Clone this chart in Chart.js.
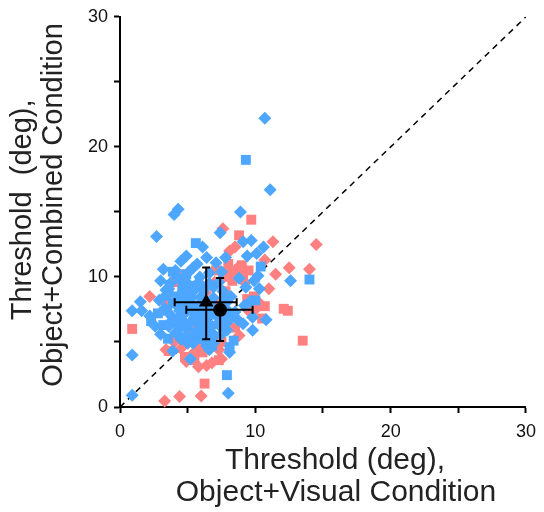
<!DOCTYPE html>
<html>
<head>
<meta charset="utf-8">
<script src="https://cdn.jsdelivr.net/npm/chart.js@4.4.1/dist/chart.umd.min.js"></script>
<style>
  html, body { margin: 0; padding: 0; background: #fff; }
  #wrap { width: 544px; height: 512px; }
</style>
</head>
<body>
<div id="wrap"><canvas id="scatter" width="544" height="512"></canvas></div>
<script>
// ---- data (deg) ----
const blueDiamonds = [
  [10.7,22.2],[11.1,16.7],[4.3,15.2],[4.0,14.8],[8.9,15.0],[2.7,13.1],[7.4,13.4],[6.1,12.3],
  [9.1,12.7],[9.7,12.8],[10.6,12.3],[4.9,11.6],[4.5,11.2],[7.1,11.1],[7.8,11.5],[9.4,11.6],
  [10.1,11.8],[5.4,10.7],[3.2,10.6],[4.1,10.5],[9.9,9.7],[8.8,9.9],[9.3,9.2],[10.3,9.1],
  [12.6,9.7],[10.2,10.1],[7.5,10.4],[9.6,8.1],[3.4,9.0],[3.6,9.1],[1.5,8.1],[2.9,8.2],
  [0.9,7.4],[1.6,7.4],[0.9,4.0],[0.9,0.9],[10.8,6.7],[9.8,6.9],[9.8,5.9],[9.1,6.4],
  [8.7,6.7],[8.1,4.2],[8.0,1.05],[5.2,3.7],[3.9,4.3],[6.4,4.7],[6.6,4.4],
  [5.0,9.5],[5.5,9.0],[6.0,8.5],[4.6,8.8],[5.8,7.5],[6.5,7.0],[4.8,7.2],[5.2,6.5],
  [6.8,6.2],[7.4,6.8],[7.8,7.6],[8.2,8.5],[6.9,9.2],[7.6,8.9],[4.4,6.0],[5.6,5.8],
  [6.2,5.6],[7.0,5.5],[7.9,5.9],[8.5,7.3],[4.2,7.8],[3.8,7.0],[5.9,10.0],[6.6,10.3],
  [4.9,8.2],[5.4,7.8],[6.3,6.6],[7.3,7.6],[3.6,6.2],[4.5,5.2],[5.0,4.9],[6.9,4.9],
  [9.2,7.8],[6.4,11.5],[5.7,11.0],[3.0,9.7],[2.2,7.0],[4.2,10.0],[5.1,10.4],[3.7,9.5],
  [4.8,9.0],[5.8,9.6],[6.6,9.5],[7.3,9.6],[3.4,8.6],[4.1,8.2],[5.3,8.4],[6.1,8.1],
  [6.9,8.4],[7.9,8.1],[3.3,7.6],[4.4,7.4],[5.1,7.7],[6.1,7.2],[6.8,7.6],[7.6,7.2],
  [3.9,6.7],[4.7,6.6],[5.5,6.9],[6.4,6.1],[7.2,6.4],[8.0,6.6],[4.1,5.7],[4.9,5.5],
  [5.9,5.9],[6.7,5.4],[7.5,5.6],[5.4,4.9],[6.1,5.2],[2.6,6.2],[3.0,5.6]
];
const blueSquares = [
  [9.3,19.0],[5.6,12.6],[10.4,10.8],[3.9,10.4],[14.0,9.8],[10.0,8.2],[7.9,2.45],[8.1,4.6],
  [8.4,5.1],[3.55,5.25],[2.8,7.2],[3.2,6.3],[5.9,5.25],[4.4,9.9],[4.9,10.2],[5.3,9.3],
  [4.6,9.2],[5.1,8.6],[4.3,8.5],[3.9,8.0],[4.7,7.6],[5.5,7.2],[6.0,7.9],[4.5,6.9],
  [5.0,6.2],[5.7,6.6],[6.2,9.1],[6.7,8.0],[7.0,7.1],[7.7,8.3],[6.4,5.9],[5.3,5.3],
  [7.6,6.1],[4.1,6.5],[3.6,8.8],[8.1,7.1],[3.5,7.4],[6.8,4.7],[2.3,6.6]
];
const redSquares = [
  [9.7,14.4],[8.8,13.2],[8.5,10.1],[9.1,10.1],[8.8,10.6],[9.0,10.9],[8.3,9.7],[9.5,10.5],
  [12.4,7.4],[10.7,7.75],[10.5,6.8],[13.5,5.1],[9.4,8.3],[9.9,8.5],[12.1,7.55],[0.9,6.0],
  [6.25,1.8],[4.8,3.85],[5.5,3.6],[4.2,5.5],[4.65,5.25],[5.15,5.4],[7.2,4.7],[7.5,5.0],
  [3.4,8.2],[4.0,9.6],[4.5,9.7],[4.6,10.2],[7.1,10.5],[6.5,7.5],[7.1,8.0],[7.8,8.9],
  [8.2,10.4],[7.6,10.0],[5.2,6.0],[6.0,6.3],[6.8,5.0],[7.9,6.6],[8.5,6.1],[5.7,4.6],
  [6.1,4.2],[8.0,11.0],[7.7,6.5],[7.3,3.6],[3.6,4.3]
];
const redDiamonds = [
  [7.6,13.7],[8.5,12.3],[11.3,12.7],[14.5,12.5],[14.0,10.6],[8.0,10.5],[8.7,10.7],[11.5,10.2],
  [12.5,10.7],[11.0,9.1],[10.05,7.55],[2.2,8.5],[3.4,8.3],[4.5,10.0],[3.3,0.46],[4.4,0.8],
  [6.0,0.84],[6.4,3.2],[5.8,3.1],[3.4,4.4],[4.5,4.5],[7.5,3.7],[5.0,5.6],[6.6,5.7],
  [7.3,4.4],[5.5,4.2],[4.0,5.0],[8.8,5.5],[9.5,7.4],[10.3,8.0],[7.0,9.6],[6.3,8.8],
  [3.9,6.6],[10.7,11.3],[9.2,9.6],[8.1,12.0],[4.9,3.5],[6.8,3.4]
];

// group means with error ranges: [triangle, circle]
const meanX = [6.37, 7.40];
const meanY = [8.06, 7.47];
const xLow  = [4.04, 4.90];
const xHigh = [8.62, 9.80];
const yLow  = [5.20, 5.07];
const yHigh = [10.73, 9.92];

const unityLine = [[0, 0], [30, 30]];
const axisTicks = [0, 10, 20, 30];

const BLUE = '#4da6ff';
const RED = '#ff8080';
const FONT = '"Liberation Sans", Arial, sans-serif';

const toXY = arr => arr.map(p => ({ x: p[0], y: p[1] }));

// error bars for the two mean markers
const errorBars = {
  id: 'errorBars',
  afterDatasetsDraw(chart) {
    const { ctx, scales: { x, y } } = chart;
    const cap = 4;
    ctx.save();
    ctx.strokeStyle = '#000';
    ctx.lineWidth = 2;
    meanX.forEach((mx, i) => {
      const px = x.getPixelForValue(mx);
      const py = y.getPixelForValue(meanY[i]);
      const x0 = x.getPixelForValue(xLow[i]), x1 = x.getPixelForValue(xHigh[i]);
      const y0 = y.getPixelForValue(yLow[i]), y1 = y.getPixelForValue(yHigh[i]);
      ctx.beginPath();
      ctx.moveTo(x0, py); ctx.lineTo(x1, py);
      ctx.moveTo(x0, py - cap); ctx.lineTo(x0, py + cap);
      ctx.moveTo(x1, py - cap); ctx.lineTo(x1, py + cap);
      ctx.moveTo(px, y0); ctx.lineTo(px, y1);
      ctx.moveTo(px - cap, y0); ctx.lineTo(px + cap, y0);
      ctx.moveTo(px - cap, y1); ctx.lineTo(px + cap, y1);
      ctx.stroke();
    });
    ctx.restore();
  }
};

// axis titles (the x title sits a bit right of the axis centre in the original)
const axisTitles = {
  id: 'axisTitles',
  afterDraw(chart) {
    const { ctx, chartArea } = chart;
    const midY = (chartArea.top + chartArea.bottom) / 2;
    ctx.save();
    ctx.fillStyle = '#222';
    ctx.textAlign = 'center';
    ctx.textBaseline = 'middle';
    ctx.font = '30px ' + FONT;
    ctx.fillText('Threshold (deg),', 335, 461);
    ctx.fillText('Object+Visual Condition', 336, 493);
    ctx.font = '29px ' + FONT;
    ctx.save();
    ctx.translate(23, midY - 2);
    ctx.rotate(-Math.PI / 2);
    ctx.fillText('Threshold  (deg),', 0, 0);
    ctx.restore();
    ctx.translate(54, midY - 7);
    ctx.rotate(-Math.PI / 2);
    ctx.fillText('Object+Combined Condition', 0, 0);
    ctx.restore();
  }
};

const axisOpts = (fitFn) => ({
  type: 'linear',
  min: 0,
  max: 30,
  afterFit: fitFn,
  afterBuildTicks: scale => {
    scale.ticks = [0, 5, 10, 15, 20, 25, 30].map(v => ({ value: v }));
  },
  ticks: {
    autoSkip: false,
    maxRotation: 0,
    color: '#111',
    font: { family: FONT, size: 18 },
    callback: v => axisTicks.includes(v) ? String(v) : '',
  },
  grid: {
    display: true,
    drawOnChartArea: false,
    drawTicks: true,
    tickLength: 6,
    tickWidth: 2,
    tickColor: '#000',
  },
  border: { display: true, color: '#000', width: 2 },
});

const xAxis = axisOpts(scale => { scale.height = 105; });
xAxis.ticks.padding = 8;
const yAxis = axisOpts(scale => { scale.width = 120; });
yAxis.ticks.padding = 6;

new Chart(document.getElementById('scatter'), {
  type: 'scatter',
  data: {
    datasets: [
      {
        label: 'Means',
        data: meanX.map((mx, i) => ({ x: mx, y: meanY[i] })),
        pointStyle: ['triangle', 'circle'],
        pointRadius: [8.5, 7],
        backgroundColor: '#000',
        borderColor: '#000',
        borderWidth: 0,
        clip: false,
      },
      {
        label: 'Blue diamonds',
        data: toXY(blueDiamonds),
        pointStyle: 'rectRot',
        pointRadius: 6.5,
        backgroundColor: BLUE,
        borderWidth: 0,
        clip: false,
      },
      {
        label: 'Blue squares',
        data: toXY(blueSquares),
        pointStyle: 'rect',
        pointRadius: 7,
        backgroundColor: BLUE,
        borderWidth: 0,
        clip: false,
      },
      {
        label: 'Red squares',
        data: toXY(redSquares),
        pointStyle: 'rect',
        pointRadius: 7,
        backgroundColor: RED,
        borderWidth: 0,
        clip: false,
      },
      {
        label: 'Red diamonds',
        data: toXY(redDiamonds),
        pointStyle: 'rectRot',
        pointRadius: 6.5,
        backgroundColor: RED,
        borderWidth: 0,
        clip: false,
      },
      {
        type: 'line',
        label: 'Unity',
        data: toXY(unityLine),
        borderColor: '#000',
        borderWidth: 1.5,
        borderDash: [6, 5],
        pointRadius: 0,
        fill: false,
      },
    ],
  },
  options: {
    responsive: false,
    animation: false,
    events: [],
    layout: { padding: { left: 0, top: 15, right: 16, bottom: 0 } },
    plugins: {
      legend: { display: false },
      tooltip: { enabled: false },
    },
    scales: { x: xAxis, y: yAxis },
  },
  plugins: [errorBars, axisTitles],
});
</script>
</body>
</html>
